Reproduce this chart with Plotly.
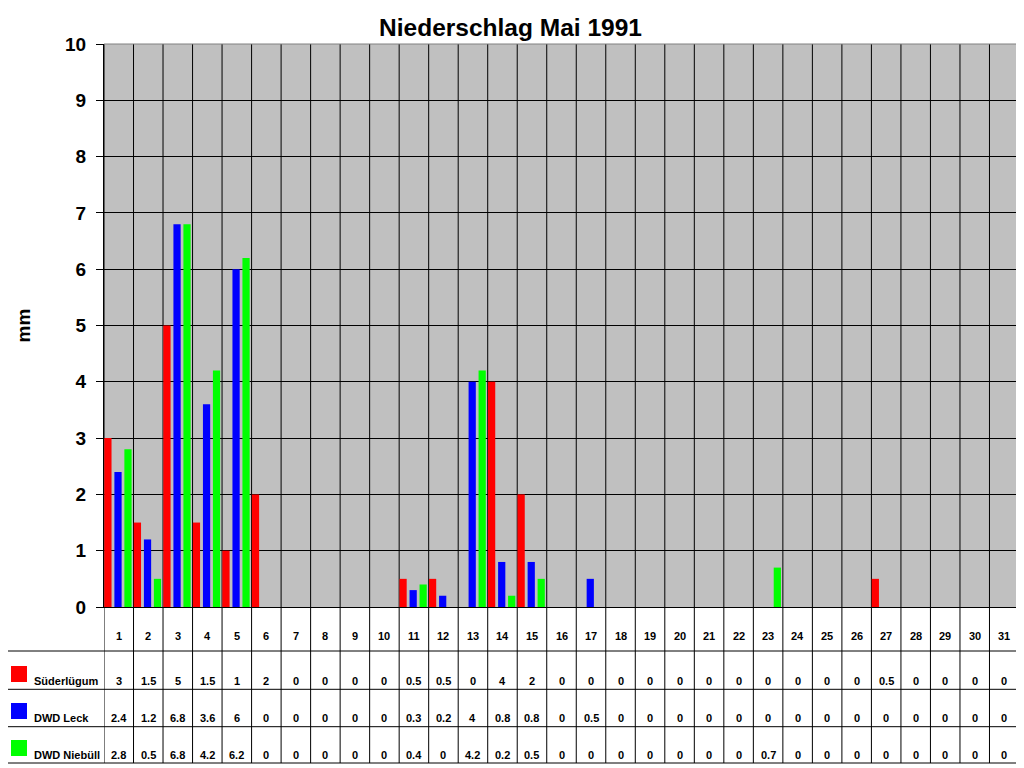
import plotly.graph_objects as go

days = list(range(1, 32))
day_labels = [str(d) for d in days]
series_names = ["Süderlügum", "DWD Leck", "DWD Niebüll"]
suederluegum = [3, 1.5, 5, 1.5, 1, 2, 0, 0, 0, 0, 0.5, 0.5, 0, 4, 2, 0, 0, 0, 0, 0, 0, 0, 0, 0, 0, 0, 0.5, 0, 0, 0, 0]
dwd_leck = [2.4, 1.2, 6.8, 3.6, 6, 0, 0, 0, 0, 0, 0.3, 0.2, 4, 0.8, 0.8, 0, 0.5, 0, 0, 0, 0, 0, 0, 0, 0, 0, 0, 0, 0, 0, 0]
dwd_niebuell = [2.8, 0.5, 6.8, 4.2, 6.2, 0, 0, 0, 0, 0, 0.4, 0, 4.2, 0.2, 0.5, 0, 0, 0, 0, 0, 0, 0, 0.7, 0, 0, 0, 0, 0, 0, 0, 0]
y_ticks = list(range(0, 11))

series = [suederluegum, dwd_leck, dwd_niebuell]
colors = ["#FF0000", "#0000FF", "#00FF00"]
offsets = [-0.49, -0.148, 0.19]
FONT = "Liberation Sans, Arial, sans-serif"

fig = go.Figure()
for name, vals, col, off in zip(series_names, series, colors, offsets):
    fig.add_trace(go.Bar(x=days, y=vals, name=name, marker=dict(color=col, line=dict(width=0)),
                         width=0.245, offset=off, showlegend=False))

# page body margin offset (figure is placed at 8,8 in the window)
OX, OY = 8, 8
W, H = 1016, 760
# target screen pixel geometry
L_S, R_S, T_S, B_S = 104, 1019, 44, 607
ml, mt = L_S - OX, T_S - OY
mr = W - (R_S - OX)
mb = H - (B_S - OY)
pw, ph = W - ml - mr, H - mt - mb

def py(p):
    return (B_S - p) / ph

def px(p):
    return (p - L_S) / pw

shapes = []
y_bottom = py(763)
for k in range(len(days) + 1):
    xb = days[0] - 0.5 + k
    top = 1 if k < len(days) else 0
    shapes.append(dict(type="line", xref="x", yref="paper", x0=xb, x1=xb, y0=y_bottom, y1=top,
                       line=dict(color="black", width=1), layer="below"))
for p in [651, 689.3, 726.7, 763]:
    shapes.append(dict(type="line", xref="paper", yref="paper", x0=px(7), x1=1, y0=py(p), y1=py(p),
                       line=dict(color="black", width=1), layer="below"))
shapes.append(dict(type="line", xref="paper", yref="paper", x0=px(7), x1=px(7), y0=py(651), y1=y_bottom,
                   line=dict(color="black", width=1), layer="below"))
shapes.append(dict(type="line", xref="paper", yref="paper", x0=0, x1=1, y0=1, y1=1,
                   line=dict(color="#808080", width=1), layer="above"))
shapes.append(dict(type="line", xref="paper", yref="paper", x0=1, x1=1, y0=0, y1=1,
                   line=dict(color="#808080", width=1), layer="above"))

row_centers = [681, 718, 755]
square_bottoms = [682, 719, 756]
annotations = []
tfont = dict(family=FONT, size=11, color="black", weight="bold")
for d, lab in zip(days, day_labels):
    annotations.append(dict(x=d, y=py(636), xref="x", yref="paper", text=lab, showarrow=False,
                            font=tfont, xanchor="center", yanchor="middle"))
for name, vals, col, rc, sb in zip(series_names, series, colors, row_centers, square_bottoms):
    shapes.append(dict(type="rect", xref="paper", yref="paper", x0=px(11), x1=px(27), y0=py(sb), y1=py(sb - 16),
                       fillcolor=col, line=dict(width=0), layer="above"))
    annotations.append(dict(x=px(32), y=py(rc), xref="paper", yref="paper", text=name, showarrow=False,
                            font=tfont, xanchor="left", yanchor="middle"))
    for d, v in zip(days, vals):
        annotations.append(dict(x=d, y=py(rc), xref="x", yref="paper", text=f"{v:g}", showarrow=False,
                                font=tfont, xanchor="center", yanchor="middle"))

fig.update_layout(
    width=W, height=H,
    margin=dict(l=ml, r=mr, t=mt, b=mb, pad=0),
    paper_bgcolor="white", plot_bgcolor="#C0C0C0",
    barmode="overlay",
    title=dict(text="Niederschlag Mai 1991", x=(510.5 - OX) / W, xref="container", xanchor="center",
               y=1 - (27 - OY) / H, yanchor="middle",
               font=dict(family=FONT, size=24.5, color="black", weight="bold")),
    xaxis=dict(range=[0.5, 31.5], showticklabels=False, ticks="", showgrid=False, zeroline=False,
               showline=True, linecolor="black", linewidth=1, fixedrange=True),
    yaxis=dict(range=[0, 10], tickvals=y_ticks, ticktext=[str(t) for t in y_ticks],
               showgrid=True, gridcolor="black", gridwidth=1, zeroline=False,
               showline=True, linecolor="black", linewidth=1, ticks="outside", ticklen=7,
               tickcolor="black", ticklabelstandoff=6,
               tickfont=dict(family=FONT, size=19, color="black", weight="bold"),
               title=dict(text="mm", standoff=29, font=dict(family=FONT, size=19, color="black", weight="bold"))),
    shapes=shapes, annotations=annotations,
)

fig.write_html("out.html")
